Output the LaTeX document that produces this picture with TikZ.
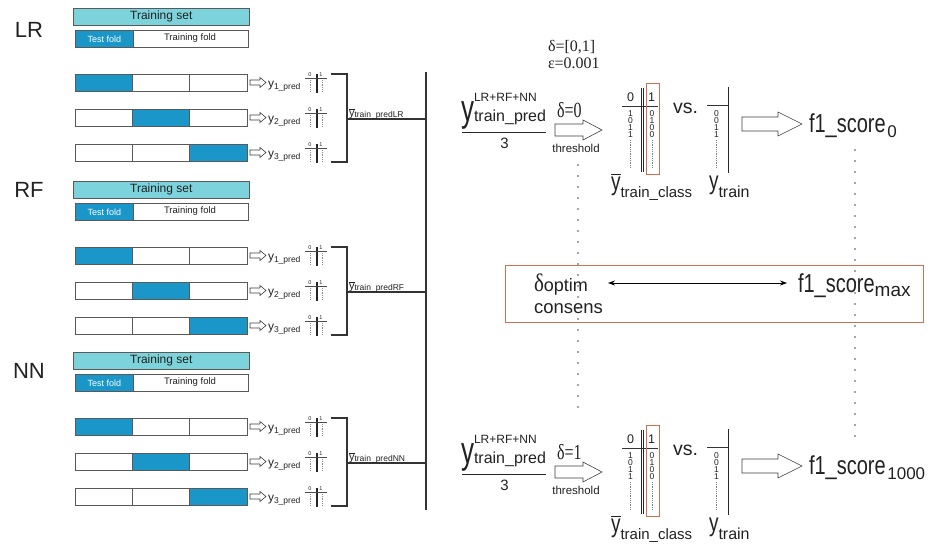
\documentclass[tikz,border=0pt]{standalone}
\usepackage{graphicx}
\usepackage{fontspec}
\setmainfont{Liberation Sans}
\newfontfamily\serifface{Liberation Serif}
\usetikzlibrary{arrows.meta,calc}
\definecolor{tsetcol}{HTML}{7DD3DB}
\definecolor{foldblue}{HTML}{1A96C8}
\definecolor{redbox}{HTML}{D0704F}
\definecolor{inkcol}{HTML}{222222}
\newcommand\fsz[1]{\fontsize{#1}{#1}\selectfont}
\newcommand\ybar{$\overline{\hbox{y}}$}
% hollow block arrow: x0, y, x1, shaft half, head half, head length, style
\newcommand\harrow[7]{\draw[#7] (#1,#2-#4) -- (#3-#6,#2-#4) -- (#3-#6,#2-#5) -- (#3,#2) -- (#3-#6,#2+#5) -- (#3-#6,#2+#4) -- (#1,#2+#4) -- cycle;}
\begin{document}
\begin{tikzpicture}[x=1pt,y=-1pt,line join=miter,
  txt/.style={inner sep=0pt,outer sep=0pt,text=inkcol},
  digit/.style={txt,anchor=base,font=\fsz{8.5}},
  barbox/.style={draw=black!65,line width=0.6pt,inner sep=0pt,anchor=north west,text=inkcol},
  hollow/.style={draw=black!75,line width=0.6pt,fill=white},
  bigline/.style={draw=black!80,line width=1.1pt},
  thinline/.style={draw=black!80,line width=0.6pt},
  dotcol/.style={draw=black!70,line width=1.6pt,line cap=round,dash pattern=on 0pt off 11pt},
  minidots/.style={draw=black!45,line width=0.5pt,dash pattern=on 0.6pt off 1.2pt},
  coldots/.style={draw=black!50,line width=0.5pt,dash pattern=on 0.6pt off 1.2pt},
  dblarrow/.style={draw=black,line width=0.8pt,{Stealth[length=7pt,width=5pt]}-{Stealth[length=7pt,width=5pt]}}
]
\useasboundingbox[fill=white] (0,0) rectangle (930,544);

% ---------------- left: three model blocks ----------------
\foreach \off/\lab/\nm/\ly in {0/LR/lr/30,173/RF/rf/190,344/NN/nn/371}{
  \node[txt,font=\fsz{22}] (lab\nm) at (29,\ly) {\lab};
  \node[barbox,fill=tsetcol,minimum width=176pt,minimum height=17pt,font=\fsz{12}] (ts\nm) at (73,8+\off) {Training set};
  \node[barbox,fill=white,minimum width=173pt,minimum height=17pt] (tf\nm) at (75,30+\off) {};
  \node[barbox,fill=foldblue,minimum width=58pt,minimum height=17pt,font=\fsz{9},text=white] (tb\nm) at (75,30+\off) {Test fold};
  \node[txt,font=\fsz{9.5}] (tr\nm) at (190,38.5+\off) {Training fold};
  \foreach \i in {1,2,3}{
    \pgfmathsetmacro\rtop{74+35*(\i-1)+\off}
    \pgfmathsetmacro\rc{\rtop+8.5}
    \pgfmathsetmacro\bx{75+57.33*(\i-1)}
    \draw[draw=black!65,line width=0.6pt,fill=white] (75,\rtop) rectangle (247,\rtop+17);
    \draw[draw=black!65,line width=0.6pt,fill=foldblue] (\bx,\rtop) rectangle (\bx+57.33,\rtop+17);
    \draw[draw=black!65,line width=0.6pt] (132.33,\rtop) -- (132.33,\rtop+17) (189.67,\rtop) -- (189.67,\rtop+17);
    \harrow{250}{\rc}{266}{2.5}{5}{6}{hollow}
    \node[txt,anchor=base west] (y\nm\i) at (268,\rc+4.5) {{\fsz{12}y}\raisebox{-2.5pt}{\fsz{8.5}\i\_pred}};
    \node[txt,font=\fsz{5.5}] (hz\nm\i) at (310,\rc-7.5) {0};
    \node[txt,font=\fsz{5.5}] (ho\nm\i) at (321,\rc-7.5) {1};
    \draw[draw=black!85,line width=1.1pt] (317,\rc-8.5) -- (317,\rc+10.5);
    \draw[draw=black!70,line width=0.4pt] (305,\rc-4.5) -- (327,\rc-4.5);
    \draw[minidots] (310,\rc-2.5) -- (310,\rc+9.5) (322,\rc-2.5) -- (322,\rc+9.5);
  }
  \draw[bigline] (331,74+\off) -- (347,74+\off) -- (347,162+\off) -- (331,162+\off);
  \coordinate (br\nm) at (347,119+\off);
  \coordinate (vl\nm) at (426,119+\off);
  \draw[bigline] (br\nm) -- (vl\nm);
  \node[txt,anchor=base west] (yb\nm) at (349,116+\off) {{\fsz{11}\ybar}\raisebox{-1.5pt}{\fsz{8.5}train\_pred\lab}};
}
\coordinate (vtop) at (426,72);
\coordinate (vbot) at (426,510);
\draw[bigline] (vtop) -- (vbot);

% ---------------- right: parameters ----------------
\node[txt,anchor=base west,font=\serifface\fsz{16}] (drange) at (548,51) {δ=[0,1]};
\node[txt,anchor=base west,font=\serifface\fsz{16}] (eps) at (548,68) {ε=0.001};

% dotted columns
\draw[dotcol] (578,165) -- (578,418);
\draw[dotcol] (855,150) -- (855,442);

% ---------------- right: two threshold levels ----------------
\foreach \o/\d/\sc/\nm in {0/0/0/a,342/1/1000/b}{
  \node[txt,anchor=base west] (fy\nm) at (461,121+\o) {{\fsz{26}\scalebox{1}[1.45]{y}}\rlap{\raisebox{20pt}{\fsz{12}LR+RF+NN}}{\fsz{16}train\_pred}};
  \coordinate (fl\nm) at (462,132+\o);
  \coordinate (fr\nm) at (546,132+\o);
  \draw[draw=black!85,line width=0.9pt] (fl\nm) -- (fr\nm);
  \node[txt,font=\fsz{15}] (three\nm) at (504.5,143+\o) {3};
  \node[txt,anchor=base west,font=\serifface\fsz{16}] (dl\nm) at (557,117+\o) {\scalebox{1}[1.35]{δ=\d}};
  \harrow{555}{130+\o}{602}{6}{10}{19}{hollow}
  \node[txt,anchor=base,font=\fsz{11.5}] (th\nm) at (576,152+\o) {threshold};
  % class table
  \node[txt,anchor=base,font=\fsz{12.5}] (cz\nm) at (630.5,101+\o) {0};
  \node[txt,anchor=base,font=\fsz{12.5}] (co\nm) at (651.5,101+\o) {1};
  \draw[thinline] (622,106+\o) -- (658,106+\o);
  \draw[draw=black!85,line width=0.7pt] (641,88+\o) -- (641,172+\o) (643.3,88+\o) -- (643.3,172+\o);
  \foreach \v/\w/\u/\k in {1/0/0/1,0/1/0/2,1/0/1/3,1/0/1/4}{
    \node[digit] (v\nm\k) at (630.5,109+7*\k+\o) {\v};
    \node[digit] (w\nm\k) at (652,109+7*\k+\o) {\w};
    \node[digit] (t\nm\k) at (716.5,109+7*\k+\o) {\u};
  }
  \draw[coldots] (630.5,140+\o) -- (630.5,168+\o) (652,140+\o) -- (652,168+\o);
  \draw[draw=redbox,line width=0.8pt] (646,83+\o) rectangle (659,174+\o);
  \node[txt,anchor=base west] (cy\nm) at (611,190+\o) {{\fsz{19}\scalebox{1}[1.35]{\ybar}}\raisebox{-7pt}{\fsz{15}train\_class}};
  % vs and y_train table
  \node[txt,anchor=base west,font=\fsz{19.5}] (vs\nm) at (673,113+\o) {vs.};
  \draw[thinline] (707,105+\o) -- (728,105+\o);
  \draw[draw=black!85,line width=0.9pt] (728,87+\o) -- (728,173+\o);
  \draw[coldots] (716.5,140+\o) -- (716.5,168+\o);
  \node[txt,anchor=base west] (ty\nm) at (709,189+\o) {{\fsz{19}\scalebox{1}[1.35]{y}}\raisebox{-8pt}{\fsz{16}train}};
  % arrow and score
  \harrow{742}{124+\o}{802}{7}{12}{24}{hollow}
  \node[txt,anchor=base west] (f\nm) at (809,132+\o) {{\fsz{20}\scalebox{1}[1.3]{f1\_score}}\,\raisebox{-5pt}{\fsz{17}\sc}};
}

% ---------------- optimum box ----------------
\node[draw=redbox,line width=1pt,minimum width=418pt,minimum height=57pt,inner sep=0pt] (optbox) at (714,293.5) {};
\node[txt,anchor=base west] (dopt) at (534,291) {{\serifface\fsz{21}\scalebox{1}[1.2]{δ}}{\fsz{18}optim}};
\node[txt,anchor=base west,font=\fsz{18.5}] (consens) at (534,313) {consens};
\node[txt,anchor=base west] (fmax) at (798,292) {{\fsz{20}\scalebox{1}[1.3]{f1\_score}}\raisebox{-4pt}{\fsz{19}max}};
\coordinate (arL) at (608,283);
\coordinate (arR) at (787,283);
\draw[dblarrow] (arL) -- (arR);
\end{tikzpicture}
\end{document}
